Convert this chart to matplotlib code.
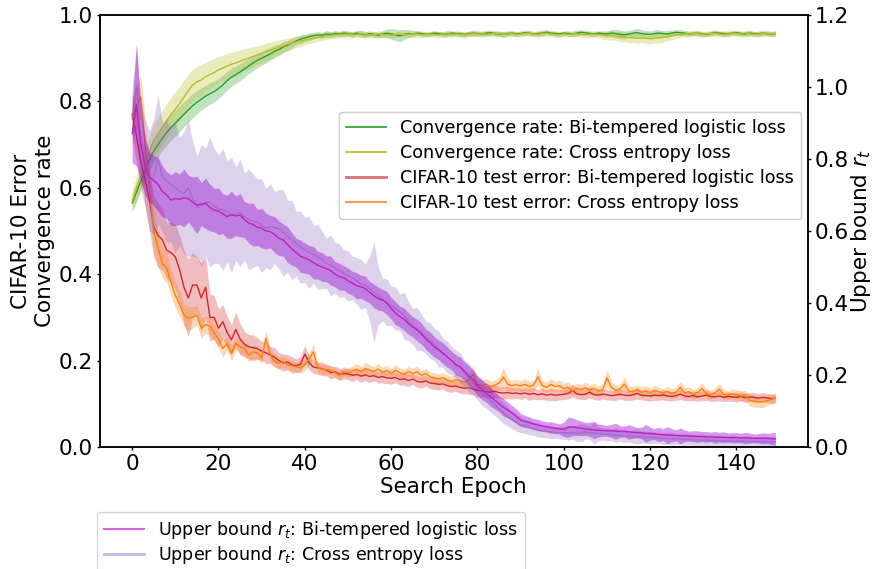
import numpy as np
import matplotlib
matplotlib.use("Agg")
import matplotlib.pyplot as plt
from matplotlib.lines import Line2D

epochs = np.arange(150)

# convergence rate (left axis)
conv_bt = [0.565,0.59,0.615,0.64,0.665,0.685,0.70,0.715,0.728,0.74,
           0.75,0.76,0.77,0.78,0.79,0.798,0.805,0.812,0.818,0.823,
           0.83,0.838,0.848,0.856,0.862,0.868,0.875,0.882,0.889,0.895,
           0.90,0.905,0.91,0.916,0.92,0.926,0.93,0.935,0.94,0.944,
           0.947,0.95,0.952,0.954,0.953,0.956,0.955,0.957,0.956,0.958,
           0.957,0.955,0.958,0.956,0.954,0.957,0.955,0.953,0.956,0.958,
           0.956,0.954,0.952,0.955,0.957,0.956,0.958,0.957,0.955,0.956,
           0.958,0.957,0.955,0.956,0.958,0.957,0.956,0.955,0.957,0.958,
           0.957,0.956,0.958,0.959,0.957,0.956,0.955,0.957,0.958,0.956,
           0.957,0.959,0.958,0.956,0.957,0.958,0.96,0.958,0.957,0.956,
           0.958,0.957,0.956,0.958,0.96,0.959,0.957,0.956,0.958,0.957,
           0.956,0.958,0.957,0.955,0.954,0.956,0.958,0.959,0.957,0.956,
           0.955,0.957,0.958,0.957,0.956,0.958,0.96,0.959,0.958,0.956,
           0.957,0.958,0.956,0.955,0.957,0.959,0.958,0.957,0.956,0.958,
           0.959,0.957,0.956,0.958,0.957,0.956,0.958,0.957,0.956,0.957]
conv_bt_sd = [0.02,0.022,0.024,0.025,0.026,0.027,0.028,0.028,0.029,0.03,
              0.03,0.03,0.029,0.028,0.028,0.027,0.026,0.025,0.025,0.024,
              0.023,0.022,0.022,0.021,0.02,0.02,0.019,0.018,0.018,0.017,
              0.016,0.016,0.015,0.014,0.013,0.012,0.012,0.011,0.01,0.01,
              0.009,0.009,0.008,0.008,0.007,0.008,0.007,0.007,0.006,0.007,
              0.006,0.007,0.006,0.008,0.007,0.006,0.007,0.006,0.008,0.01,
              0.012,0.013,0.014,0.012,0.009,0.007,0.006,0.006,0.005,0.006,
              0.006,0.005,0.006,0.007,0.006,0.005,0.006,0.005,0.006,0.007,
              0.006,0.005,0.006,0.006,0.005,0.006,0.007,0.006,0.005,0.006,
              0.005,0.006,0.006,0.005,0.006,0.007,0.006,0.005,0.006,0.006,
              0.005,0.006,0.006,0.007,0.006,0.005,0.006,0.006,0.005,0.006,
              0.007,0.008,0.009,0.01,0.009,0.008,0.009,0.01,0.009,0.008,
              0.008,0.009,0.008,0.007,0.008,0.007,0.006,0.007,0.006,0.006,
              0.005,0.006,0.006,0.005,0.006,0.006,0.005,0.006,0.006,0.005,
              0.006,0.005,0.006,0.006,0.005,0.006,0.006,0.005,0.006,0.006]

conv_ce = [0.57,0.60,0.63,0.66,0.685,0.71,0.725,0.74,0.755,0.77,
           0.782,0.795,0.81,0.825,0.838,0.845,0.85,0.857,0.862,0.867,
           0.873,0.877,0.882,0.886,0.889,0.893,0.897,0.90,0.904,0.907,
           0.91,0.915,0.918,0.922,0.925,0.928,0.932,0.935,0.938,0.94,
           0.942,0.944,0.946,0.948,0.95,0.951,0.953,0.954,0.955,0.955,
           0.956,0.954,0.955,0.957,0.955,0.953,0.954,0.956,0.955,0.954,
           0.953,0.955,0.956,0.954,0.955,0.957,0.956,0.954,0.955,0.956,
           0.955,0.954,0.956,0.957,0.955,0.956,0.955,0.954,0.956,0.957,
           0.956,0.957,0.955,0.956,0.958,0.957,0.955,0.956,0.957,0.955,
           0.956,0.957,0.958,0.956,0.955,0.957,0.958,0.956,0.955,0.954,
           0.956,0.955,0.957,0.956,0.955,0.954,0.955,0.956,0.955,0.953,
           0.952,0.953,0.951,0.95,0.949,0.948,0.947,0.946,0.947,0.946,
           0.945,0.946,0.947,0.948,0.95,0.952,0.954,0.955,0.956,0.957,
           0.958,0.957,0.955,0.956,0.957,0.958,0.956,0.955,0.957,0.958,
           0.957,0.956,0.958,0.957,0.955,0.956,0.957,0.958,0.956,0.957]
conv_ce_sd = [0.025,0.028,0.03,0.033,0.035,0.037,0.038,0.04,0.04,0.04,
              0.04,0.04,0.039,0.038,0.037,0.036,0.035,0.034,0.033,0.032,
              0.031,0.03,0.029,0.028,0.027,0.026,0.025,0.024,0.023,0.022,
              0.021,0.02,0.019,0.018,0.017,0.016,0.015,0.014,0.013,0.012,
              0.011,0.01,0.01,0.009,0.009,0.008,0.008,0.008,0.007,0.007,
              0.007,0.006,0.007,0.008,0.007,0.006,0.007,0.008,0.007,0.006,
              0.007,0.006,0.007,0.006,0.007,0.008,0.007,0.006,0.007,0.006,
              0.006,0.007,0.006,0.007,0.006,0.007,0.006,0.007,0.006,0.007,
              0.006,0.007,0.006,0.006,0.007,0.006,0.007,0.006,0.007,0.006,
              0.007,0.006,0.007,0.006,0.007,0.006,0.007,0.006,0.007,0.006,
              0.006,0.007,0.006,0.007,0.006,0.007,0.008,0.007,0.008,0.009,
              0.01,0.011,0.01,0.012,0.011,0.012,0.011,0.012,0.011,0.012,
              0.012,0.011,0.012,0.011,0.01,0.009,0.008,0.007,0.007,0.006,
              0.006,0.007,0.006,0.007,0.006,0.007,0.006,0.007,0.006,0.007,
              0.006,0.007,0.006,0.007,0.006,0.007,0.006,0.007,0.006,0.007]

# CIFAR-10 test error (left axis)
err_bt = [0.77,0.72,0.66,0.62,0.57,0.51,0.49,0.48,0.455,0.45,
          0.44,0.41,0.37,0.345,0.375,0.375,0.345,0.37,0.30,0.30,
          0.275,0.29,0.265,0.248,0.272,0.25,0.238,0.232,0.23,0.228,
          0.222,0.218,0.213,0.208,0.20,0.195,0.197,0.19,0.188,0.192,
          0.215,0.195,0.185,0.183,0.181,0.178,0.172,0.174,0.168,0.17,
          0.169,0.166,0.168,0.164,0.167,0.163,0.165,0.161,0.163,0.16,
          0.159,0.161,0.156,0.158,0.154,0.157,0.152,0.15,0.153,0.148,
          0.147,0.145,0.146,0.142,0.14,0.141,0.138,0.136,0.137,0.134,
          0.131,0.13,0.128,0.127,0.129,0.126,0.125,0.126,0.124,0.125,
          0.123,0.125,0.122,0.124,0.121,0.123,0.12,0.122,0.12,0.121,
          0.122,0.124,0.131,0.123,0.121,0.122,0.127,0.121,0.12,0.122,
          0.121,0.119,0.12,0.122,0.12,0.119,0.121,0.124,0.12,0.119,
          0.118,0.12,0.119,0.121,0.118,0.117,0.119,0.122,0.118,0.117,
          0.119,0.116,0.118,0.12,0.117,0.116,0.118,0.115,0.117,0.116,
          0.115,0.117,0.114,0.116,0.115,0.113,0.115,0.114,0.112,0.113]
err_bt_sd = [0.05,0.06,0.06,0.065,0.07,0.07,0.075,0.07,0.065,0.07,
             0.075,0.08,0.085,0.09,0.075,0.065,0.08,0.07,0.055,0.05,
             0.045,0.04,0.038,0.035,0.04,0.036,0.03,0.028,0.03,0.025,
             0.022,0.025,0.02,0.022,0.018,0.02,0.017,0.019,0.016,0.018,
             0.02,0.016,0.015,0.014,0.016,0.013,0.015,0.013,0.014,0.012,
             0.013,0.014,0.012,0.015,0.013,0.014,0.012,0.013,0.015,0.013,
             0.014,0.012,0.013,0.015,0.014,0.012,0.013,0.014,0.012,0.013,
             0.014,0.013,0.012,0.014,0.013,0.012,0.014,0.013,0.015,0.014,
             0.016,0.014,0.013,0.015,0.014,0.013,0.015,0.014,0.013,0.012,
             0.013,0.012,0.014,0.013,0.012,0.013,0.012,0.014,0.013,0.012,
             0.012,0.013,0.015,0.012,0.011,0.012,0.013,0.011,0.012,0.011,
             0.012,0.011,0.012,0.011,0.012,0.011,0.012,0.013,0.011,0.012,
             0.011,0.012,0.011,0.012,0.011,0.01,0.011,0.012,0.011,0.01,
             0.011,0.01,0.011,0.012,0.011,0.01,0.011,0.01,0.011,0.01,
             0.011,0.01,0.011,0.01,0.011,0.01,0.011,0.01,0.011,0.01]

err_ce = [0.76,0.79,0.81,0.70,0.60,0.50,0.46,0.425,0.415,0.38,
          0.352,0.33,0.306,0.298,0.30,0.305,0.275,0.283,0.28,0.264,
          0.25,0.228,0.24,0.217,0.24,0.232,0.228,0.213,0.22,0.218,
          0.206,0.252,0.213,0.198,0.194,0.198,0.19,0.188,0.186,0.183,
          0.19,0.205,0.22,0.183,0.18,0.179,0.178,0.172,0.165,0.175,
          0.172,0.176,0.18,0.174,0.182,0.178,0.175,0.18,0.173,0.177,
          0.17,0.178,0.172,0.168,0.175,0.17,0.174,0.166,0.17,0.163,
          0.16,0.158,0.161,0.155,0.152,0.156,0.153,0.15,0.155,0.168,
          0.145,0.142,0.146,0.14,0.143,0.148,0.162,0.145,0.142,0.144,
          0.141,0.145,0.14,0.143,0.162,0.142,0.138,0.145,0.14,0.142,
          0.135,0.138,0.13,0.136,0.133,0.137,0.132,0.135,0.13,0.133,
          0.16,0.138,0.131,0.134,0.146,0.13,0.128,0.133,0.127,0.13,
          0.126,0.131,0.128,0.125,0.129,0.124,0.127,0.138,0.125,0.128,
          0.122,0.126,0.135,0.124,0.121,0.125,0.134,0.122,0.12,0.123,
          0.121,0.118,0.12,0.108,0.106,0.105,0.104,0.107,0.11,0.113]
err_ce_sd = [0.04,0.05,0.05,0.055,0.05,0.045,0.04,0.035,0.035,0.03,
             0.03,0.028,0.025,0.028,0.025,0.022,0.024,0.02,0.022,0.02,
             0.018,0.02,0.016,0.018,0.015,0.016,0.014,0.015,0.016,0.013,
             0.014,0.018,0.015,0.013,0.014,0.012,0.013,0.012,0.011,0.012,
             0.013,0.015,0.018,0.012,0.011,0.012,0.01,0.011,0.01,0.011,
             0.012,0.011,0.013,0.012,0.014,0.012,0.011,0.013,0.012,0.011,
             0.012,0.013,0.011,0.012,0.011,0.012,0.013,0.011,0.012,0.011,
             0.012,0.011,0.012,0.011,0.012,0.013,0.011,0.012,0.014,0.02,
             0.013,0.012,0.013,0.012,0.013,0.014,0.022,0.014,0.012,0.013,
             0.012,0.014,0.012,0.013,0.02,0.013,0.012,0.014,0.012,0.013,
             0.012,0.013,0.011,0.012,0.011,0.013,0.011,0.012,0.011,0.012,
             0.02,0.013,0.011,0.012,0.016,0.011,0.012,0.011,0.012,0.011,
             0.011,0.012,0.011,0.01,0.012,0.011,0.012,0.015,0.011,0.012,
             0.011,0.012,0.014,0.011,0.01,0.012,0.013,0.011,0.01,0.011,
             0.011,0.012,0.011,0.013,0.014,0.014,0.013,0.012,0.011,0.012]

# upper bound r_t (right axis)
upper_bt = [0.87,0.95,0.84,0.78,0.75,0.74,0.73,0.71,0.70,0.686,
            0.69,0.688,0.692,0.69,0.68,0.672,0.675,0.677,0.665,0.658,
            0.655,0.648,0.64,0.645,0.642,0.644,0.632,0.622,0.618,0.61,
            0.608,0.60,0.598,0.59,0.58,0.575,0.562,0.55,0.54,0.53,
            0.525,0.52,0.512,0.505,0.50,0.495,0.49,0.48,0.473,0.47,
            0.462,0.455,0.448,0.445,0.44,0.43,0.42,0.412,0.408,0.40,
            0.385,0.372,0.362,0.355,0.343,0.334,0.325,0.315,0.30,0.29,
            0.278,0.27,0.26,0.25,0.24,0.228,0.223,0.21,0.198,0.186,
            0.17,0.16,0.15,0.14,0.13,0.12,0.11,0.103,0.095,0.085,
            0.075,0.071,0.068,0.064,0.061,0.058,0.056,0.054,0.052,0.05,
            0.049,0.055,0.056,0.054,0.052,0.05,0.049,0.047,0.046,0.046,
            0.045,0.045,0.044,0.043,0.043,0.042,0.041,0.04,0.039,0.038,
            0.037,0.036,0.035,0.034,0.033,0.033,0.032,0.031,0.031,0.03,
            0.03,0.029,0.029,0.028,0.028,0.027,0.027,0.027,0.026,0.026,
            0.026,0.025,0.025,0.025,0.024,0.024,0.024,0.024,0.023,0.023]
upper_bt_sd = [0.08,0.17,0.1,0.08,0.07,0.07,0.075,0.07,0.065,0.07,
               0.075,0.07,0.08,0.065,0.07,0.08,0.06,0.07,0.065,0.06,
               0.065,0.055,0.06,0.065,0.055,0.06,0.05,0.055,0.06,0.05,
               0.055,0.05,0.045,0.05,0.048,0.045,0.05,0.045,0.04,0.045,
               0.042,0.04,0.045,0.038,0.04,0.036,0.04,0.035,0.037,0.034,
               0.035,0.033,0.036,0.032,0.034,0.03,0.033,0.032,0.03,0.032,
               0.03,0.032,0.029,0.031,0.03,0.028,0.03,0.029,0.028,0.03,
               0.028,0.027,0.029,0.028,0.026,0.028,0.027,0.026,0.028,0.027,
               0.026,0.028,0.025,0.027,0.024,0.022,0.024,0.022,0.02,0.021,
               0.018,0.017,0.016,0.015,0.016,0.015,0.014,0.016,0.015,0.014,
               0.02,0.028,0.025,0.022,0.02,0.018,0.02,0.024,0.018,0.016,
               0.015,0.018,0.022,0.016,0.015,0.02,0.017,0.014,0.016,0.025,
               0.018,0.015,0.02,0.016,0.024,0.018,0.015,0.022,0.016,0.014,
               0.015,0.016,0.014,0.015,0.013,0.016,0.014,0.015,0.013,0.014,
               0.014,0.013,0.016,0.014,0.012,0.013,0.015,0.014,0.016,0.018]

upper_ce = [0.92,1.0,0.86,0.79,0.74,0.75,0.80,0.75,0.74,0.73,
            0.72,0.71,0.705,0.72,0.69,0.667,0.67,0.68,0.68,0.67,
            0.66,0.66,0.655,0.645,0.648,0.65,0.64,0.632,0.628,0.625,
            0.615,0.608,0.612,0.61,0.605,0.595,0.585,0.575,0.565,0.555,
            0.548,0.54,0.535,0.528,0.52,0.51,0.505,0.498,0.49,0.483,
            0.475,0.47,0.462,0.452,0.448,0.44,0.43,0.42,0.41,0.402,
            0.393,0.385,0.375,0.365,0.35,0.335,0.328,0.318,0.305,0.295,
            0.285,0.272,0.262,0.25,0.24,0.23,0.22,0.205,0.192,0.18,
            0.165,0.152,0.14,0.13,0.118,0.105,0.095,0.085,0.075,0.068,
            0.062,0.058,0.055,0.05,0.048,0.045,0.043,0.042,0.04,0.04,
            0.039,0.039,0.04,0.038,0.04,0.042,0.04,0.038,0.037,0.036,
            0.035,0.034,0.033,0.032,0.031,0.03,0.029,0.028,0.028,0.027,
            0.026,0.026,0.025,0.024,0.024,0.023,0.022,0.022,0.021,0.021,
            0.02,0.02,0.019,0.019,0.018,0.018,0.018,0.017,0.017,0.017,
            0.016,0.016,0.016,0.015,0.015,0.015,0.015,0.014,0.014,0.014]
upper_ce_sd = [0.08,0.12,0.1,0.12,0.14,0.16,0.18,0.15,0.17,0.16,
               0.18,0.15,0.17,0.19,0.16,0.14,0.17,0.15,0.18,0.16,
               0.15,0.17,0.14,0.16,0.13,0.15,0.12,0.14,0.13,0.12,
               0.13,0.11,0.12,0.1,0.11,0.12,0.1,0.11,0.09,0.1,
               0.09,0.1,0.08,0.09,0.08,0.07,0.085,0.07,0.075,0.065,
               0.07,0.06,0.065,0.07,0.06,0.09,0.14,0.08,0.06,0.065,
               0.055,0.06,0.05,0.065,0.055,0.05,0.06,0.05,0.045,0.05,
               0.045,0.05,0.04,0.045,0.04,0.038,0.042,0.036,0.04,0.035,
               0.034,0.036,0.032,0.033,0.03,0.028,0.03,0.026,0.025,0.024,
               0.022,0.02,0.021,0.018,0.02,0.018,0.017,0.019,0.016,0.018,
               0.017,0.02,0.018,0.022,0.025,0.02,0.018,0.03,0.02,0.017,
               0.018,0.016,0.02,0.017,0.019,0.016,0.018,0.02,0.017,0.016,
               0.018,0.016,0.015,0.017,0.016,0.018,0.015,0.016,0.017,0.015,
               0.016,0.015,0.017,0.015,0.016,0.014,0.016,0.015,0.014,0.016,
               0.015,0.014,0.016,0.015,0.014,0.015,0.014,0.016,0.015,0.014]

plt.rcParams['font.size'] = 15.5
plt.rcParams['axes.linewidth'] = 1.1

fig = plt.figure(figsize=(8.73, 5.69), dpi=100)
ax = fig.add_axes([100/873, 122/569, 707.5/873, 432/569])
ax2 = ax.twinx()

def band(a, x, m, s, line_c, fill_c, fill_alpha, line_alpha=1.0):
    m = np.array(m)
    s = np.array(s)
    a.fill_between(x, m - s, m + s, color=fill_c, alpha=fill_alpha, lw=0)
    a.plot(x, m, color=line_c, lw=1.0, alpha=line_alpha)

band(ax, epochs, conv_bt, conv_bt_sd, '#2ca02c', '#2ca02c', 0.3)
band(ax, epochs, conv_ce, conv_ce_sd, '#bcbd22', '#bcbd22', 0.3)
band(ax, epochs, err_bt, err_bt_sd, '#d62728', '#d62728', 0.3)
band(ax, epochs, err_ce, err_ce_sd, '#ff7f0e', '#ff7f0e', 0.3)

band(ax2, epochs, upper_ce, upper_ce_sd, '#9467bd', '#9467bd', 0.3, 0.7)
band(ax2, epochs, upper_bt, upper_bt_sd, '#c020c0', '#9400d3', 0.4)

ax.set_ylim(0, 1.0)
ax2.set_ylim(0, 1.2)
for a in (ax, ax2):
    a.tick_params(length=2.5, pad=2.5, width=1.0)
ax.set_xlabel('Search Epoch', labelpad=2)
ax.set_ylabel('CIFAR-10 Error\nConvergence rate', labelpad=3)
ax2.set_ylabel('Upper bound $r_t$', labelpad=0)

h1 = [Line2D([], [], color='#2ca02c', lw=1.2),
      Line2D([], [], color='#bcbd22', lw=1.2),
      Line2D([], [], color='#d62728', lw=2, alpha=0.6),
      Line2D([], [], color='#ff7f0e', lw=1.5, alpha=0.7)]
l1 = ['Convergence rate: Bi-tempered logistic loss',
      'Convergence rate: Cross entropy loss',
      'CIFAR-10 test error: Bi-tempered logistic loss',
      'CIFAR-10 test error: Cross entropy loss']
leg = ax2.legend(h1, l1, loc='upper right', fontsize=12.6, handlelength=2.3,
                 labelspacing=0.4,
                 bbox_to_anchor=(801/873, 1 - 112/569),
                 bbox_transform=fig.transFigure, borderaxespad=0)
ax2.add_artist(leg)

h2 = [Line2D([], [], color='#e060e0', lw=1.5),
      Line2D([], [], color='#c8b4dc', lw=2)]
l2 = ['Upper bound $r_t$: Bi-tempered logistic loss',
      'Upper bound $r_t$: Cross entropy loss']
fig.legend(h2, l2, loc='upper left', fontsize=12.6, handlelength=2.3,
           labelspacing=0.15,
           bbox_to_anchor=(97/873, 1 - 512/569), borderaxespad=0)

fig.savefig('out.png', dpi=100)
